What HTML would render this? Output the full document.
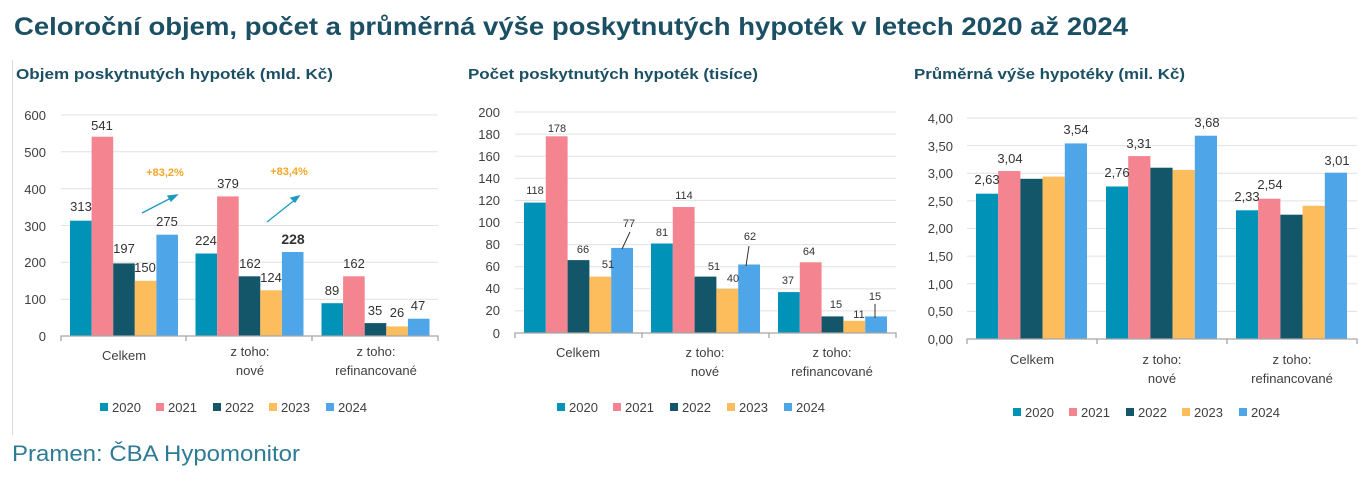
<!DOCTYPE html>
<html><head><meta charset="utf-8"><style>
body{margin:0;background:#fff}
svg{display:block;font-family:"Liberation Sans",sans-serif}
.t{font-weight:bold;fill:#1b4f63}
.y{font-size:13px;fill:#404040;text-anchor:end}
.c{font-size:13px;fill:#404040;text-anchor:middle}
.l{font-size:13px;fill:#333;text-anchor:middle}
.s{font-size:11px;fill:#333;text-anchor:middle}
.g{stroke:#e0e0e0;stroke-width:1}
.a{stroke:#a6a6a6;stroke-width:1.3;fill:none}
.lg{font-size:13px;fill:#404040}
.c0{fill:#0093b8}.c1{fill:#f4848f}.c2{fill:#135669}.c3{fill:#fdbd5c}.c4{fill:#4ea6e8}
</style></head><body>
<svg width="1371" height="478" viewBox="0 0 1371 478">
<text x="14" y="35" class="t" font-size="25" textLength="1114" lengthAdjust="spacingAndGlyphs">Celoroční objem, počet a průměrná výše poskytnutých hypoték v letech 2020 až 2024</text>
<line x1="12.5" y1="60" x2="12.5" y2="435" stroke="#d9d9d9"/>

<!-- Chart 1 -->
<text x="16" y="79" class="t" font-size="15" textLength="317" lengthAdjust="spacingAndGlyphs">Objem poskytnutých hypoték (mld. Kč)</text>
<g class="g"><line x1="61" y1="115" x2="438" y2="115"/><line x1="61" y1="151.8" x2="438" y2="151.8"/><line x1="61" y1="188.7" x2="438" y2="188.7"/><line x1="61" y1="225.5" x2="438" y2="225.5"/><line x1="61" y1="262.3" x2="438" y2="262.3"/><line x1="61" y1="299.2" x2="438" y2="299.2"/></g>
<g class="y"><text x="46" y="120">600</text><text x="46" y="157">500</text><text x="46" y="194">400</text><text x="46" y="231">300</text><text x="46" y="267">200</text><text x="46" y="304">100</text><text x="46" y="341">0</text></g>
<rect class="c0" x="70" y="220.7" width="21.6" height="115.3"/><rect class="c1" x="91.6" y="136.7" width="21.6" height="199.3"/><rect class="c2" x="113.2" y="263.4" width="21.6" height="72.6"/><rect class="c3" x="134.8" y="280.8" width="21.6" height="55.2"/><rect class="c4" x="156.4" y="234.7" width="21.6" height="101.3"/>
<rect class="c0" x="195.5" y="253.5" width="21.6" height="82.5"/><rect class="c1" x="217.1" y="196.4" width="21.6" height="139.6"/><rect class="c2" x="238.7" y="276.3" width="21.6" height="59.7"/><rect class="c3" x="260.3" y="290.3" width="21.6" height="45.7"/><rect class="c4" x="281.9" y="252" width="21.6" height="84"/>
<rect class="c0" x="321.5" y="303.2" width="21.6" height="32.8"/><rect class="c1" x="343.1" y="276.3" width="21.6" height="59.7"/><rect class="c2" x="364.7" y="323.1" width="21.6" height="12.9"/><rect class="c3" x="386.3" y="326.4" width="21.6" height="9.6"/><rect class="c4" x="407.9" y="318.7" width="21.6" height="17.3"/>
<g class="l"><text x="81" y="211">313</text><text x="102" y="130">541</text><text x="124" y="253">197</text><text x="145" y="272">150</text><text x="167" y="226">275</text>
<text x="206" y="245">224</text><text x="228" y="188">379</text><text x="250" y="268">162</text><text x="271" y="282">124</text><text x="293" y="244" font-weight="bold" font-size="14">228</text>
<text x="332" y="295">89</text><text x="354" y="268">162</text><text x="375" y="315">35</text><text x="397" y="317">26</text><text x="418" y="310">47</text></g>
<text x="165" y="176" class="s" font-weight="bold" style="fill:#f5a623">+83,2%</text>
<text x="289" y="175" class="s" font-weight="bold" style="fill:#f5a623">+83,4%</text>
<g stroke="#1a9bc0" stroke-width="1.3" fill="#1a9bc0"><line x1="142" y1="213" x2="173" y2="197"/><polygon points="177,195 168,196 171,201"/><line x1="267" y1="222" x2="296" y2="199"/><polygon points="299,196 291,198 295,202"/></g>
<path class="a" d="M61,341V336H438V341M186,336V341M312,336V341"/>
<g class="c"><text x="124" y="360">Celkem</text><text x="250" y="356">z toho:</text><text x="250" y="375">nové</text><text x="376" y="356">z toho:</text><text x="376" y="375">refinancované</text></g>
<g class="lg"><rect class="c0" x="100" y="403" width="8" height="8"/><text x="112" y="412">2020</text><rect class="c1" x="156" y="403" width="8" height="8"/><text x="168" y="412">2021</text><rect class="c2" x="213" y="403" width="8" height="8"/><text x="225" y="412">2022</text><rect class="c3" x="269" y="403" width="8" height="8"/><text x="281" y="412">2023</text><rect class="c4" x="326" y="403" width="8" height="8"/><text x="338" y="412">2024</text></g>

<!-- Chart 2 -->
<text x="468" y="79" class="t" font-size="15" textLength="290" lengthAdjust="spacingAndGlyphs">Počet poskytnutých hypoték (tisíce)</text>
<g class="g"><line x1="515" y1="112" x2="896" y2="112"/><line x1="515" y1="134.1" x2="896" y2="134.1"/><line x1="515" y1="156.2" x2="896" y2="156.2"/><line x1="515" y1="178.3" x2="896" y2="178.3"/><line x1="515" y1="200.4" x2="896" y2="200.4"/><line x1="515" y1="222.5" x2="896" y2="222.5"/><line x1="515" y1="244.6" x2="896" y2="244.6"/><line x1="515" y1="266.7" x2="896" y2="266.7"/><line x1="515" y1="288.8" x2="896" y2="288.8"/><line x1="515" y1="310.9" x2="896" y2="310.9"/></g>
<g class="y"><text x="500" y="117">200</text><text x="500" y="139">180</text><text x="500" y="161">160</text><text x="500" y="183">140</text><text x="500" y="205">120</text><text x="500" y="227">100</text><text x="500" y="249">80</text><text x="500" y="271">60</text><text x="500" y="293">40</text><text x="500" y="315">20</text><text x="500" y="338">0</text></g>
<rect class="c0" x="524" y="202.6" width="21.8" height="130.4"/><rect class="c1" x="545.8" y="136.3" width="21.8" height="196.7"/><rect class="c2" x="567.6" y="260.1" width="21.8" height="72.9"/><rect class="c3" x="589.4" y="276.6" width="21.8" height="56.4"/><rect class="c4" x="611.2" y="247.9" width="21.8" height="85.1"/>
<rect class="c0" x="651" y="243.5" width="21.8" height="89.5"/><rect class="c1" x="672.8" y="207" width="21.8" height="126"/><rect class="c2" x="694.6" y="276.6" width="21.8" height="56.4"/><rect class="c3" x="716.4" y="288.8" width="21.8" height="44.2"/><rect class="c4" x="738.2" y="264.5" width="21.8" height="68.5"/>
<rect class="c0" x="778" y="292.1" width="21.8" height="40.9"/><rect class="c1" x="799.8" y="262.3" width="21.8" height="70.7"/><rect class="c2" x="821.6" y="316.4" width="21.8" height="16.6"/><rect class="c3" x="843.4" y="320.8" width="21.8" height="12.2"/><rect class="c4" x="865.2" y="316.4" width="21.8" height="16.6"/>
<g class="s"><text x="535" y="194">118</text><text x="557" y="132">178</text><text x="583" y="253">66</text><text x="608" y="268">51</text><text x="629" y="227">77</text>
<text x="662" y="236">81</text><text x="684" y="199">114</text><text x="714" y="270">51</text><text x="733" y="282">40</text><text x="750" y="240">62</text>
<text x="788" y="284">37</text><text x="809" y="255">64</text><text x="836" y="308">15</text><text x="859" y="318">11</text><text x="875" y="300">15</text></g>
<g stroke="#333" stroke-width="1"><line x1="630" y1="232" x2="622" y2="249"/><line x1="749" y1="246" x2="746" y2="266"/><line x1="875" y1="304" x2="875" y2="318"/></g>
<path class="a" d="M515,338V333H896V338M642,333V338M769,333V338"/>
<g class="c"><text x="578" y="357">Celkem</text><text x="705" y="357">z toho:</text><text x="705" y="376">nové</text><text x="832" y="357">z toho:</text><text x="832" y="376">refinancované</text></g>
<g class="lg"><rect class="c0" x="557" y="403" width="8" height="8"/><text x="569" y="412">2020</text><rect class="c1" x="613" y="403" width="8" height="8"/><text x="625" y="412">2021</text><rect class="c2" x="670" y="403" width="8" height="8"/><text x="682" y="412">2022</text><rect class="c3" x="727" y="403" width="8" height="8"/><text x="739" y="412">2023</text><rect class="c4" x="784" y="403" width="8" height="8"/><text x="796" y="412">2024</text></g>

<!-- Chart 3 -->
<text x="914" y="79" class="t" font-size="15" textLength="271" lengthAdjust="spacingAndGlyphs">Průměrná výše hypotéky (mil. Kč)</text>
<g class="g"><line x1="967" y1="118" x2="1357" y2="118"/><line x1="967" y1="145.6" x2="1357" y2="145.6"/><line x1="967" y1="173.3" x2="1357" y2="173.3"/><line x1="967" y1="200.9" x2="1357" y2="200.9"/><line x1="967" y1="228.5" x2="1357" y2="228.5"/><line x1="967" y1="256.1" x2="1357" y2="256.1"/><line x1="967" y1="283.8" x2="1357" y2="283.8"/><line x1="967" y1="311.4" x2="1357" y2="311.4"/></g>
<g class="y"><text x="953" y="123">4,00</text><text x="953" y="151">3,50</text><text x="953" y="178">3,00</text><text x="953" y="206">2,50</text><text x="953" y="233">2,00</text><text x="953" y="261">1,50</text><text x="953" y="289">1,00</text><text x="953" y="316">0,50</text><text x="953" y="344">0,00</text></g>
<rect class="c0" x="976" y="193.7" width="22.2" height="145.3"/><rect class="c1" x="998.2" y="171" width="22.2" height="168"/><rect class="c2" x="1020.4" y="178.8" width="22.2" height="160.2"/><rect class="c3" x="1042.6" y="176.6" width="22.2" height="162.4"/><rect class="c4" x="1064.8" y="143.4" width="22.2" height="195.6"/>
<rect class="c0" x="1106" y="186.5" width="22.2" height="152.5"/><rect class="c1" x="1128.2" y="156.1" width="22.2" height="182.9"/><rect class="c2" x="1150.4" y="167.7" width="22.2" height="171.3"/><rect class="c3" x="1172.6" y="169.9" width="22.2" height="169.1"/><rect class="c4" x="1194.8" y="135.7" width="22.2" height="203.3"/>
<rect class="c0" x="1236" y="210.3" width="22.2" height="128.7"/><rect class="c1" x="1258.2" y="198.7" width="22.2" height="140.3"/><rect class="c2" x="1280.4" y="214.7" width="22.2" height="124.3"/><rect class="c3" x="1302.6" y="205.8" width="22.2" height="133.2"/><rect class="c4" x="1324.8" y="172.7" width="22.2" height="166.3"/>
<g class="l"><text x="987" y="184">2,63</text><text x="1010" y="163">3,04</text><text x="1076" y="134">3,54</text><text x="1117" y="177">2,76</text><text x="1139" y="148">3,31</text><text x="1207" y="127">3,68</text><text x="1247" y="201">2,33</text><text x="1270" y="189">2,54</text><text x="1337" y="165">3,01</text></g>
<path class="a" d="M967,344V339H1357V344M1097,339V344M1227,339V344"/>
<g class="c"><text x="1032" y="364">Celkem</text><text x="1162" y="364">z toho:</text><text x="1162" y="383">nové</text><text x="1292" y="364">z toho:</text><text x="1292" y="383">refinancované</text></g>
<g class="lg"><rect class="c0" x="1013" y="408" width="8" height="8"/><text x="1025" y="417">2020</text><rect class="c1" x="1069" y="408" width="8" height="8"/><text x="1081" y="417">2021</text><rect class="c2" x="1126" y="408" width="8" height="8"/><text x="1138" y="417">2022</text><rect class="c3" x="1182" y="408" width="8" height="8"/><text x="1194" y="417">2023</text><rect class="c4" x="1239" y="408" width="8" height="8"/><text x="1251" y="417">2024</text></g>

<text x="12" y="461" font-size="22" fill="#2e7b96" textLength="288" lengthAdjust="spacingAndGlyphs">Pramen: ČBA Hypomonitor</text>
</svg>
</body></html>
